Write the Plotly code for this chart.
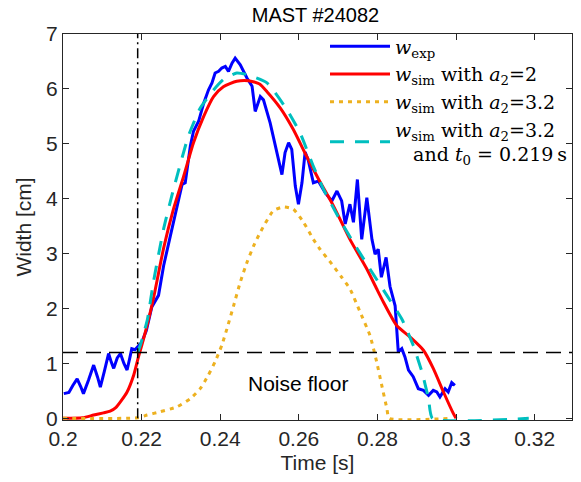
import plotly.graph_objects as go

# ---------------- data ----------------
t_exp = [0.2002, 0.2015, 0.2025, 0.2036, 0.2045, 0.2052, 0.2065, 0.2078, 0.2088, 0.2095,
         0.2105, 0.2116, 0.2123, 0.2129, 0.2138, 0.2146, 0.2155, 0.2163, 0.2170, 0.2175,
         0.2183, 0.2190, 0.2200, 0.2212, 0.2226, 0.2243, 0.2256, 0.2273, 0.2290, 0.2303,
         0.2311, 0.2319, 0.2324, 0.2332, 0.2345, 0.2358, 0.2370, 0.2379, 0.2387, 0.2396,
         0.2404, 0.2413, 0.2421, 0.2430, 0.2438, 0.2451, 0.2468, 0.2481, 0.2489, 0.2502,
         0.2510, 0.2527, 0.2544, 0.2557, 0.2565, 0.2574, 0.2582, 0.2591, 0.2599, 0.2608,
         0.2616, 0.2624, 0.2637, 0.2650, 0.2667, 0.2684, 0.2697, 0.2709, 0.2718, 0.2730,
         0.2739, 0.2749, 0.2760, 0.2773, 0.2786, 0.2794, 0.2802, 0.2810, 0.2822, 0.2832,
         0.2845, 0.2853, 0.2862, 0.2870, 0.2879, 0.2891, 0.2904, 0.2917, 0.2930, 0.2942,
         0.2951, 0.2959, 0.2972, 0.2980, 0.2989, 0.2997]
w_exp = [0.45, 0.47, 0.60, 0.72, 0.58, 0.45, 0.70, 0.97, 0.75, 0.57,
         0.85, 1.18, 1.02, 0.91, 1.10, 1.18, 1.00, 0.88, 1.10, 1.27,
         1.25, 1.30, 1.38, 1.60, 2.03, 2.24, 2.78, 3.32, 3.87, 4.26,
         4.29, 4.72, 4.96, 5.23, 5.41, 5.74, 5.98, 6.11, 6.29, 6.32,
         6.38, 6.41, 6.32, 6.47, 6.56, 6.44, 6.20, 6.05, 5.59, 5.86,
         5.80, 5.38, 4.84, 4.44, 4.84, 5.02, 4.90, 4.23, 3.90, 4.29,
         4.85, 4.70, 4.29, 4.32, 4.11, 3.96, 4.14, 3.96, 3.54, 3.90,
         3.57, 4.35, 3.26, 4.02, 3.26, 2.99, 3.08, 2.57, 2.93, 2.40,
         2.05, 1.21, 1.27, 1.12, 0.88, 0.76, 0.54, 0.51, 0.42, 0.51,
         0.48, 0.39, 0.54, 0.48, 0.65, 0.60]

t_sim_a2 = [0.2000, 0.2050, 0.2078, 0.2103, 0.2120, 0.2135, 0.2146, 0.2163, 0.2180, 0.2192,
            0.2205, 0.2218, 0.2230, 0.2256, 0.2281, 0.2307, 0.2332, 0.2358, 0.2383, 0.2408,
            0.2442, 0.2472, 0.2500, 0.2519, 0.2553, 0.2586, 0.2620, 0.2650, 0.2688, 0.2730,
            0.2773, 0.2798, 0.2815, 0.2849, 0.2883, 0.2917, 0.2942, 0.2968, 0.2993, 0.3000]
w_sim_a2 = [0.00, 0.01, 0.06, 0.10, 0.13, 0.20, 0.30, 0.48, 0.79, 1.12,
            1.45, 1.81, 2.18, 3.10, 3.81, 4.41, 5.02, 5.50, 5.86, 6.04,
            6.14, 6.15, 6.09, 5.95, 5.65, 5.26, 4.77, 4.36, 3.87, 3.26,
            2.72, 2.36, 2.12, 1.69, 1.48, 1.24, 0.91, 0.48, 0.09, 0.00]

t_sim_a32 = [0.2000, 0.2190, 0.2214, 0.2247, 0.2290, 0.2324, 0.2349, 0.2370, 0.2387, 0.2404,
             0.2417, 0.2434, 0.2451, 0.2468, 0.2485, 0.2502, 0.2535, 0.2561, 0.2586, 0.2612,
             0.2637, 0.2654, 0.2684, 0.2709, 0.2730, 0.2755, 0.2781, 0.2798, 0.2811, 0.2824,
             0.2830, 0.2985]
w_sim_a32 = [0.00, 0.01, 0.06, 0.12, 0.21, 0.36, 0.54, 0.79, 1.03, 1.33,
             1.63, 2.05, 2.48, 2.84, 3.14, 3.39, 3.78, 3.85, 3.81, 3.57,
             3.26, 3.08, 2.81, 2.57, 2.36, 1.95, 1.51, 1.03, 0.60, 0.18,
             0.00, 0.00]

t_sim_a32_t0 = [0.2190, 0.2198, 0.2215, 0.2230, 0.2256, 0.2281, 0.2319, 0.2349, 0.2383, 0.2408,
                0.2442, 0.2468, 0.2519, 0.2570, 0.2603, 0.2637, 0.2663, 0.2701, 0.2739, 0.2781,
                0.2824, 0.2862, 0.2891, 0.2913, 0.2930, 0.2940, 0.3185]
w_sim_a32_t0 = [1.20, 1.36, 1.81, 2.48, 3.45, 4.17, 5.14, 5.65, 5.98, 6.17,
                6.29, 6.26, 6.11, 5.62, 5.20, 4.59, 4.17, 3.66, 3.20, 2.72,
                2.24, 1.81, 1.33, 0.85, 0.36, 0.00, 0.00]

noise_floor = 1.2
t0 = 0.219
x_ticks = [0.2, 0.22, 0.24, 0.26, 0.28, 0.3, 0.32]
x_tick_labels = ["0.2", "0.22", "0.24", "0.26", "0.28", "0.3", "0.32"]
y_ticks = [0, 1, 2, 3, 4, 5, 6, 7]

SANS = "Liberation Sans, Arial, Helvetica, sans-serif"
SERIF = "DejaVu Serif, serif"
AX = "#262626"
NB = "\u00a0"

fig = go.Figure()

fig.add_trace(go.Scatter(x=t_exp, y=w_exp, mode="lines",
                         line=dict(color="#0000FF", width=3),
                         name="<i>w</i><sub>exp</sub>"))
fig.add_trace(go.Scatter(x=t_sim_a2, y=w_sim_a2, mode="lines",
                         line=dict(color="#FF0000", width=3, shape="spline", smoothing=0.6),
                         name="<i>w</i><sub>sim</sub> with <i>a</i><sub>2</sub>=2"))
fig.add_trace(go.Scatter(x=t_sim_a32, y=w_sim_a32, mode="lines",
                         line=dict(color="#EDB120", width=3, dash="4px,5px", shape="spline", smoothing=0.5),
                         name="<i>w</i><sub>sim</sub> with <i>a</i><sub>2</sub>=3.2"))
fig.add_trace(go.Scatter(x=t_sim_a32_t0, y=w_sim_a32_t0, mode="lines",
                         line=dict(color="#00BFBF", width=3, dash="14px,11px", shape="spline", smoothing=0.5),
                         name="<i>w</i><sub>sim</sub> with <i>a</i><sub>2</sub>=3.2<br>"
                              + NB * 3 + "and <i>t</i><sub>0</sub> = 0.219\u2009s"))

# noise floor and t0 reference lines
fig.add_trace(go.Scatter(x=[0.2, 0.3295], y=[noise_floor, noise_floor], mode="lines",
                         line=dict(color="black", width=1.5, dash="15px,8px"),
                         showlegend=False, hoverinfo="skip"))
fig.add_trace(go.Scatter(x=[t0, t0], y=[0, 7], mode="lines",
                         line=dict(color="black", width=1.5, dash="10px,4px,2px,4px"),
                         showlegend=False, hoverinfo="skip"))

fig.add_annotation(x=0.2598, y=0.63, text="Noise floor", showarrow=False,
                   font=dict(family=SANS, size=21, color="black"))

fig.update_layout(
    width=581, height=482,
    margin=dict(l=63, r=9, t=34, b=62),
    paper_bgcolor="white", plot_bgcolor="white",
    title=dict(text="MAST #24082", x=0.543, xanchor="center", y=0.968, yanchor="middle",
               font=dict(family=SANS, size=20, color="black", weight="normal")),
    font=dict(family=SANS, size=21, color=AX),
    legend=dict(x=1, xanchor="right", y=1.017, yanchor="top", bgcolor="rgba(0,0,0,0)",
                borderwidth=0, font=dict(family=SERIF, size=19, color="black"),
                itemwidth=60, tracegroupgap=0),
    showlegend=True,
)
fig.update_xaxes(range=[0.2, 0.3295], tickvals=x_ticks, ticktext=x_tick_labels,
                 ticks="inside", ticklen=6, tickcolor=AX, showline=True, linecolor=AX,
                 linewidth=1, mirror="ticks", showgrid=False, zeroline=False,
                 title=dict(text="Time [s]", font=dict(family=SANS, size=21, color=AX), standoff=6),
                 tickfont=dict(family=SANS, size=21, color=AX))
fig.update_yaxes(range=[-0.03, 7], tickvals=y_ticks,
                 ticks="inside", ticklen=6, tickcolor=AX, showline=True, linecolor=AX,
                 linewidth=1, mirror="ticks", showgrid=False, zeroline=False,
                 title=dict(text="Width [cm]", font=dict(family=SANS, size=21, color=AX), standoff=8),
                 tickfont=dict(family=SANS, size=21, color=AX))

fig.write_html("out.html")
